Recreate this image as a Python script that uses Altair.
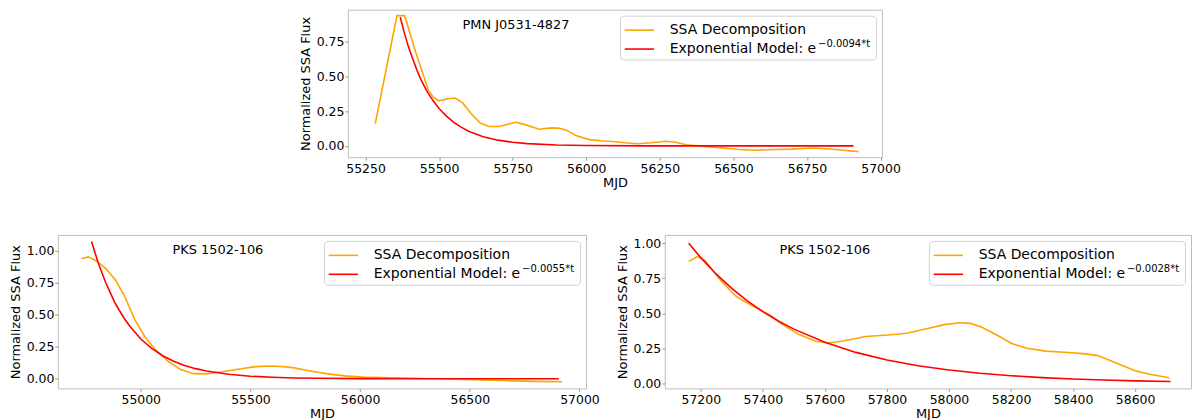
import altair as alt
import pandas as pd

FONT = "DejaVu Sans"
SSA_LABEL = "SSA Decomposition"
# trailing no-break spaces widen the legend so the exponent fits after "e";
# the zero-width space stops Vega from trimming them
SSA_SHOWN = SSA_LABEL + "\u00a0" * 15 + "\u200b"
EXP_BASE = "Exponential Model: e"

# ---------------- top panel: PMN J0531-4827 ----------------
top_name = "PMN J0531-4827"
top_exp = "\u22120.0094*t"
top_ssa_mjd = [55283, 55357, 55383, 55420, 55445, 55464, 55481, 55500, 55530, 55555,
               55580, 55610, 55640, 55670, 55705, 55740, 55760, 55790, 55840, 55880,
               55905, 55930, 55965, 56010, 56060, 56100, 56140, 56175, 56220, 56270,
               56300, 56340, 56400, 56460, 56520, 56570, 56640, 56700, 56770, 56840,
               56890, 56925]
top_ssa_flux = [0.16, 0.94, 0.94, 0.68, 0.52, 0.40, 0.35, 0.325, 0.34, 0.345,
                0.31, 0.23, 0.165, 0.14, 0.14, 0.16, 0.17, 0.155, 0.12, 0.13,
                0.128, 0.115, 0.075, 0.045, 0.035, 0.03, 0.02, 0.015, 0.022, 0.033,
                0.028, 0.008, -0.004, -0.015, -0.026, -0.032, -0.026, -0.024, -0.016, -0.025,
                -0.035, -0.042]
top_exp_mjd = [55368, 55380, 55395, 55410, 55425, 55440, 55460, 55480, 55500, 55525,
               55550, 55575, 55600, 55650, 55700, 55750, 55800, 55900, 56000, 56200,
               56500, 56908]
top_exp_flux = [0.93, 0.83, 0.72, 0.63, 0.545, 0.47, 0.39, 0.325, 0.27, 0.215,
                0.17, 0.135, 0.105, 0.066, 0.041, 0.026, 0.016, 0.006, 0.002, 0.0,
                0.0, 0.0]
top_x_ticks = [55250, 55500, 55750, 56000, 56250, 56500, 56750, 57000]
top_y_ticks = [0.0, 0.25, 0.5, 0.75]

# ---------------- bottom left: PKS 1502-106 ----------------
bl_name = "PKS 1502-106"
bl_exp = "\u22120.0055*t"
bl_ssa_mjd = [54730, 54761, 54796, 54840, 54885, 54930, 54973, 55018, 55063, 55122,
              55182, 55242, 55298, 55373, 55457, 55525, 55590, 55650, 55700, 55761,
              55845, 55930, 56014, 56183, 56352, 56520, 56689, 56800, 56921]
bl_ssa_flux = [0.935, 0.95, 0.92, 0.86, 0.77, 0.63, 0.46, 0.33, 0.235, 0.14,
               0.072, 0.04, 0.038, 0.055, 0.078, 0.095, 0.10, 0.095, 0.085, 0.065,
               0.04, 0.023, 0.013, 0.005, 0.0, -0.008, -0.016, -0.02, -0.023]
bl_exp_mjd = [54776, 54790, 54805, 54820, 54840, 54860, 54880, 54900, 54925, 54950,
              54975, 55000, 55050, 55100, 55150, 55200, 55250, 55300, 55400, 55500,
              55600, 55700, 55800, 56000, 56300, 56906]
bl_exp_flux = [1.069, 0.99, 0.91, 0.84, 0.75, 0.675, 0.60, 0.54, 0.47, 0.41,
               0.36, 0.31, 0.237, 0.18, 0.137, 0.104, 0.079, 0.06, 0.035, 0.02,
               0.0115, 0.0066, 0.004, 0.0012, 0.0, 0.0]
bl_x_ticks = [55000, 55500, 56000, 56500, 57000]
bl_y_ticks = [0.0, 0.25, 0.5, 0.75, 1.0]

# ---------------- bottom right: PKS 1502-106 ----------------
br_name = "PKS 1502-106"
br_exp = "\u22120.0028*t"
br_ssa_mjd = [57161, 57190, 57214, 57262, 57314, 57368, 57421, 57463, 57516, 57570,
              57611, 57654, 57700, 57731, 57803, 57864, 57924, 57985, 58033, 58069,
              58106, 58154, 58202, 58251, 58311, 58372, 58432, 58480, 58533, 58600,
              58650, 58710]
br_ssa_flux = [0.87, 0.905, 0.876, 0.74, 0.62, 0.55, 0.49, 0.42, 0.35, 0.30,
               0.288, 0.30, 0.32, 0.334, 0.345, 0.358, 0.388, 0.419, 0.433, 0.428,
               0.40, 0.345, 0.285, 0.25, 0.23, 0.222, 0.212, 0.198, 0.15, 0.09,
               0.063, 0.04]
br_exp_mjd = [57161, 57200, 57250, 57300, 57350, 57400, 57450, 57500, 57600, 57700,
              57800, 57900, 58000, 58100, 58200, 58300, 58400, 58500, 58600, 58714]
br_exp_flux = [1.0, 0.897, 0.779, 0.678, 0.589, 0.512, 0.445, 0.387, 0.293, 0.221,
               0.167, 0.126, 0.0955, 0.072, 0.0545, 0.041, 0.031, 0.0236, 0.0178, 0.013]
br_x_ticks = [57200, 57400, 57600, 57800, 58000, 58200, 58400, 58600]
br_y_ticks = [0.0, 0.25, 0.5, 0.75, 1.0]

LEG_OFFSET = 6
LEG_PAD = 3
ROW_H = 21


def panel(ssa_mjd, ssa_flux, exp_mjd, exp_flux, exp_text, name,
          xdom, ydom, xticks, yticks, w, h):
    exp_label = EXP_BASE + exp_text  # unique legend entry per panel
    df_s = pd.DataFrame({"mjd": ssa_mjd, "flux": ssa_flux, "series": SSA_LABEL})
    df_e = pd.DataFrame({"mjd": exp_mjd, "flux": exp_flux, "series": exp_label})
    color = alt.Color(
        "series:N",
        scale=alt.Scale(domain=[SSA_LABEL, exp_label], range=["#FFA500", "#FF0000"]),
        legend=alt.Legend(
            title=None, orient="top-right", offset=LEG_OFFSET,
            strokeColor="#d0d0d0", cornerRadius=4,
            padding=LEG_PAD, labelFont=FONT, labelFontSize=14, labelColor="black",
            labelLimit=400, symbolType="M-1.4,0H1.4", symbolSize=ROW_H * ROW_H,
            symbolOffset=5, symbolStrokeWidth=1.6, labelOffset=19, rowPadding=0,
            labelExpr="indexof(datum.label, 'Exponential') == 0 ? '%s' : '%s'"
            % (EXP_BASE, SSA_SHOWN),
        ),
    )
    x = alt.X("mjd:Q", scale=alt.Scale(domain=xdom, nice=False, zero=False),
              axis=alt.Axis(values=xticks, format="d", title="MJD",
                            labelPadding=2, titlePadding=2))
    y = alt.Y("flux:Q", scale=alt.Scale(domain=ydom, nice=False, zero=False),
              axis=alt.Axis(values=yticks, format=".2f", title="Normalized SSA Flux",
                            labelPadding=1, titlePadding=4))
    l1 = alt.Chart(df_s).mark_line(strokeWidth=1.6).encode(x=x, y=y, color=color)
    l2 = alt.Chart(df_e).mark_line(strokeWidth=1.6).encode(x=x, y=y, color=color)
    txt = alt.Chart(pd.DataFrame({"t": [name]})).mark_text(
        align="left", baseline="middle", font=FONT, fontSize=13, color="black"
    ).encode(x=alt.value(115), y=alt.value(15), text="t:N")
    sup = alt.Chart(pd.DataFrame({"t": [exp_text]})).mark_text(
        align="right", baseline="alphabetic", font=FONT, fontSize=10, color="black"
    ).encode(
        x=alt.value(w - LEG_OFFSET - LEG_PAD - 3),
        y=alt.value(LEG_OFFSET + LEG_PAD + ROW_H + 7),
        text="t:N",
    )
    return alt.layer(l1, l2, txt, sup).properties(width=w, height=h)


top = panel(top_ssa_mjd, top_ssa_flux, top_exp_mjd, top_exp_flux, top_exp,
            top_name, [55190, 57005], [-0.082, 0.983], top_x_ticks, top_y_ticks, 536, 148)
bl = panel(bl_ssa_mjd, bl_ssa_flux, bl_exp_mjd, bl_exp_flux, bl_exp,
           bl_name, [54622, 57030], [-0.075, 1.121], bl_x_ticks, bl_y_ticks, 530, 154)
br = panel(br_ssa_mjd, br_ssa_flux, br_exp_mjd, br_exp_flux, br_exp,
           br_name, [57084, 58780], [-0.036, 1.059], br_x_ticks, br_y_ticks, 528, 154)

spacer = alt.Chart(pd.DataFrame({"a": [0]})).mark_point(size=0, opacity=0).encode(
    x=alt.X("a:Q", axis=None), y=alt.Y("a:Q", axis=None)
).properties(width=241, height=148, view=alt.ViewBackground(strokeWidth=0))

row1 = alt.hconcat(spacer, top, spacing=0).resolve_scale(color="independent")
row2 = alt.hconcat(bl, br, spacing=15).resolve_scale(color="independent")

chart = alt.vconcat(row1, row2, spacing=44).resolve_scale(
    color="independent"
).properties(
    padding={"left": 0, "top": 0, "right": 0, "bottom": 0}
).configure(font=FONT).configure_view(
    stroke="#bdbdbd", strokeWidth=1
).configure_axis(
    grid=False, domain=False, labelFont=FONT, labelFontSize=12.5, labelColor="black",
    titleFont=FONT, titleFontSize=13, titleFontWeight="normal", titleColor="black",
    tickColor="#999999", tickSize=3, labelFlush=False, labelOverlap=False
)

chart.save("out.html", embed_options={"renderer": "svg", "actions": False})
